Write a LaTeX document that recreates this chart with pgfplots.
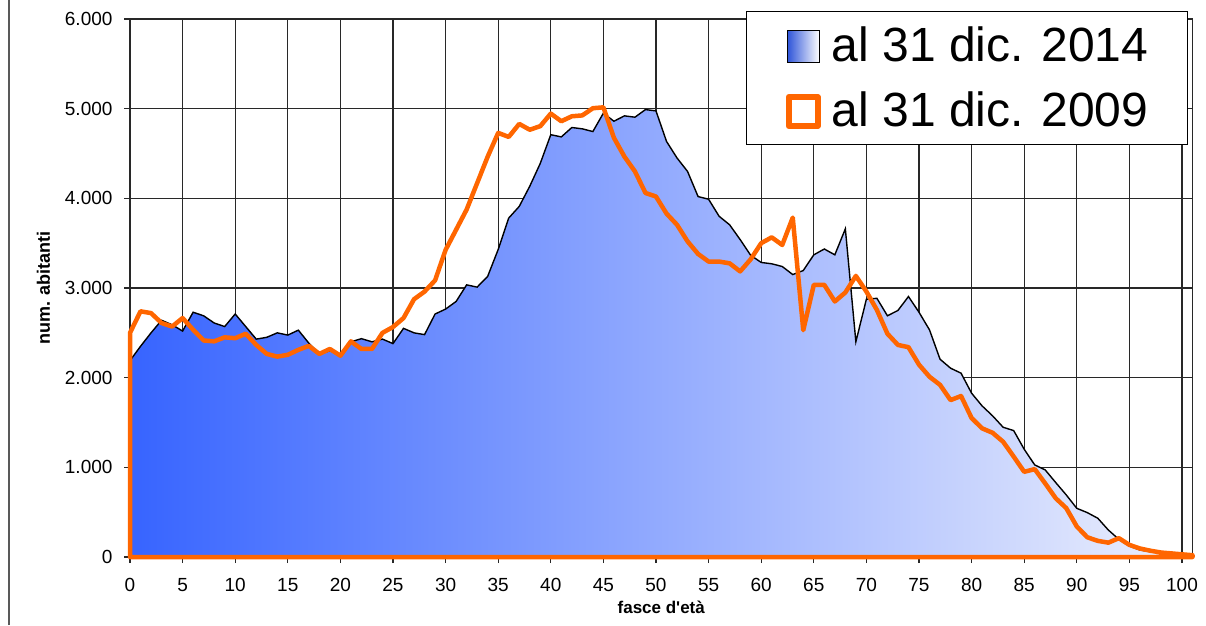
\documentclass[border=0pt]{standalone}
\usepackage{pgfplots}
\pgfplotsset{compat=1.18}
\usepackage{pgfplotstable}
\usepackage{fontspec}
\setmainfont{Liberation Sans}
\definecolor{bA}{RGB}{55,100,255}
\definecolor{bB}{RGB}{172,186,255}
\definecolor{bC}{RGB}{238,241,253}
\definecolor{orng}{RGB}{255,102,0}
\definecolor{gridc}{RGB}{40,40,40}

\pgfplotstableread{
age val
0 2190
1 2350
2 2500
3 2640
4 2590
5 2520
6 2730
7 2690
8 2610
9 2570
10 2710
11 2570
12 2430
13 2450
14 2500
15 2475
16 2530
17 2385
18 2265
19 2300
20 2265
21 2400
22 2435
23 2400
24 2430
25 2380
26 2550
27 2500
28 2480
29 2710
30 2765
31 2850
32 3035
33 3010
34 3130
35 3430
36 3780
37 3910
38 4135
39 4390
40 4710
41 4685
42 4790
43 4775
44 4745
45 4950
46 4860
47 4920
48 4905
49 4990
50 4975
51 4635
52 4450
53 4300
54 4020
55 3990
56 3800
57 3705
58 3540
59 3365
60 3285
61 3270
62 3240
63 3150
64 3195
65 3370
66 3435
67 3370
68 3660
69 2400
70 2875
71 2885
72 2690
73 2750
74 2905
75 2730
76 2533
77 2206
78 2106
79 2050
80 1827
81 1685
82 1574
83 1447
84 1410
85 1202
86 1027
87 971
88 830
89 692
90 543
91 495
92 432
93 301
94 197
95 123
96 78
97 60
98 41
99 30
100 22
101 12
}\dataA

\pgfplotstableread{
age val
0 2500
1 2740
2 2720
3 2610
4 2570
5 2665
6 2535
7 2415
8 2405
9 2450
10 2440
11 2490
12 2365
13 2265
14 2235
15 2255
16 2310
17 2355
18 2265
19 2320
20 2245
21 2405
22 2320
23 2320
24 2500
25 2565
26 2665
27 2875
28 2960
29 3085
30 3425
31 3650
32 3875
33 4170
34 4465
35 4730
36 4685
37 4830
38 4765
39 4805
40 4945
41 4860
42 4915
43 4925
44 5005
45 5015
46 4675
47 4465
48 4300
49 4060
50 4020
51 3830
52 3705
53 3520
54 3380
55 3295
56 3295
57 3275
58 3185
59 3320
60 3500
61 3565
62 3480
63 3785
64 2530
65 3035
66 3035
67 2850
68 2950
69 3135
70 2960
71 2755
72 2490
73 2365
74 2340
75 2145
76 2010
77 1920
78 1750
79 1795
80 1550
81 1435
82 1385
83 1285
84 1120
85 950
86 980
87 820
88 655
89 545
90 340
91 220
92 180
93 160
94 210
95 135
96 95
97 70
98 50
99 40
100 30
101 20
}\dataB

\begin{document}
\begin{tikzpicture}[x=1pt,y=1pt]
\useasboundingbox (0,0) rectangle (1206,625);
\draw[black!65, line width=2.5pt] (9,0) -- (9,625);
\begin{axis}[
  at={(130pt,68pt)}, anchor=south west,
  scale only axis, width=1062.5pt, height=538pt,
  xmin=0, xmax=101, ymin=0, ymax=6000,
  xtick={0,5,...,100}, ytick={0,1000,...,6000},
  xtick pos=bottom, ytick pos=left,
  tick align=outside, major tick length=6pt,
  grid=major,
  major grid style={line width=1.3pt, color=gridc},
  axis line style={line width=1.3pt, color=gridc},
  tick style={line width=1.3pt, color=gridc},
  ticklabel style={font=\fontsize{19}{22}\selectfont},
  every x tick label/.append style={yshift=-12pt},
  every y tick label/.append style={xshift=-8pt},
  /pgf/number format/.cd, 1000 sep={.}, assume math mode=true, /pgfplots/.cd,
  xlabel={fasce d\textquotesingle età}, ylabel={num. abitanti},
  every axis x label/.style={at={(axis description cs:0.5,-0.0929)}, anchor=center, font=\bfseries\fontsize{17}{20}\selectfont},
  every axis y label/.style={at={(axis description cs:-0.0814,0.5)}, anchor=center, rotate=90, font=\bfseries\fontsize{18}{20}\selectfont},
  clip=false,
  legend cell align=left,
  legend style={at={(rel axis cs:0.99576,1.0149)}, anchor=north east,
    draw=black, line width=1.2pt, fill=white,
    font=\fontsize{48}{50}\selectfont,
    nodes={inner sep=0pt}, inner xsep=39pt, inner ysep=15.5pt,
    row sep=28pt, column sep=11pt},
]
\addplot[draw=none, left color=bA, middle color=bB, right color=bC,
  legend image code/.code={\draw[black, line width=1.3pt, left color=bA!85!black, right color=white] (0pt,-17.5pt) rectangle (32pt,14.5pt);}]
  table[x=age,y=val]{\dataA} \closedcycle;
\addlegendentry{al 31 dic. 2014}
\addplot[black, line width=1.4pt, forget plot] table[x=age,y=val]{\dataA};
\addplot[orng, line width=4.5pt, line join=round,
  legend image code/.code={\draw[orng, line width=6pt] (1.3pt,-16.5pt) rectangle (30.3pt,12.5pt);}]
  table[x=age,y=val]{\dataB} \closedcycle;
\addlegendentry{al 31 dic. 2009}
\end{axis}
\end{tikzpicture}
\end{document}
